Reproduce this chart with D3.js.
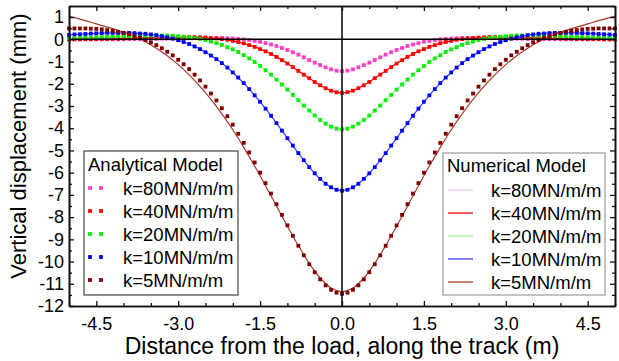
<!DOCTYPE html>
<html><head><meta charset="utf-8">
<script src="https://cdn.jsdelivr.net/npm/d3@7"></script>
<style>
html,body{margin:0;padding:0;background:#fff;}
svg{display:block;font-family:Arial,"Liberation Sans",sans-serif;}
</style></head>
<body><svg id="c" width="619" height="361"></svg>
<script>
// ---- data ----
const distDots = [-5.0,-4.9,-4.8,-4.7,-4.6,-4.5,-4.4,-4.3,-4.2,-4.1,-4.0,-3.9,-3.8,-3.7,-3.6,-3.5,-3.4,-3.3,-3.2,-3.1,-3.0,-2.9,-2.8,-2.7,-2.6,-2.5,-2.4,-2.3,-2.2,-2.1,-2.0,-1.9,-1.8,-1.7,-1.6,-1.5,-1.4,-1.3,-1.2,-1.1,-1.0,-0.9,-0.8,-0.7,-0.6,-0.5,-0.4,-0.3,-0.2,-0.1,0.0,0.1,0.2,0.3,0.4,0.5,0.6,0.7,0.8,0.9,1.0,1.1,1.2,1.3,1.4,1.5,1.6,1.7,1.8,1.9,2.0,2.1,2.2,2.3,2.4,2.5,2.6,2.7,2.8,2.9,3.0,3.1,3.2,3.3,3.4,3.5,3.6,3.7,3.8,3.9,4.0,4.1,4.2,4.3,4.4,4.5,4.6,4.7,4.8,4.9,5.0];
const distLine = [-5.0,-4.8,-4.6,-4.4,-4.2,-4.0,-3.8,-3.6,-3.4,-3.2,-3.0,-2.8,-2.6,-2.4,-2.2,-2.0,-1.8,-1.6,-1.4,-1.2,-1.0,-0.8,-0.6,-0.4,-0.2,0.0,0.2,0.4,0.6,0.8,1.0,1.2,1.4,1.6,1.8,2.0,2.2,2.4,2.6,2.8,3.0,3.2,3.4,3.6,3.8,4.0,4.2,4.4,4.6,4.8,5.0];

// Analytical model (dots)
const anaK80 = [0,0,0,0,0,0,0,0,0,0,0,0.01,0.01,0.01,0.01,0.02,0.02,0.03,0.03,0.04,0.04,0.05,0.05,0.06,0.06,0.06,0.06,0.06,0.06,0.05,0.04,0.02,0.00,-0.03,-0.07,-0.11,-0.17,-0.23,-0.30,-0.39,-0.48,-0.58,-0.69,-0.81,-0.93,-1.05,-1.16,-1.26,-1.35,-1.41,
 -1.43,
 -1.41,-1.35,-1.26,-1.16,-1.05,-0.93,-0.81,-0.69,-0.58,-0.48,-0.39,-0.30,-0.23,-0.17,-0.11,-0.07,-0.03,0.00,0.02,0.04,0.05,0.06,0.06,0.06,0.06,0.06,0.06,0.05,0.05,0.04,0.04,0.03,0.03,0.02,0.02,0.01,0.01,0.01,0.01,0,0,0,0,0,0,0,0,0,0,0];
const anaK40 = [0.00,0.00,0.00,0.01,0.01,0.01,0.02,0.02,0.03,0.03,0.04,0.05,0.05,0.06,0.07,0.07,0.08,0.09,0.09,0.10,0.10,0.10,0.10,0.10,0.09,0.08,0.06,0.04,0.01,-0.02,-0.07,-0.12,-0.18,-0.26,-0.34,-0.44,-0.54,-0.66,-0.79,-0.94,-1.09,-1.25,-1.42,-1.59,-1.75,-1.92,-2.07,-2.20,-2.31,-2.38,
 -2.41,
 -2.38,-2.31,-2.20,-2.07,-1.92,-1.75,-1.59,-1.42,-1.25,-1.09,-0.94,-0.79,-0.66,-0.54,-0.44,-0.34,-0.26,-0.18,-0.12,-0.07,-0.02,0.01,0.04,0.06,0.08,0.09,0.10,0.10,0.10,0.10,0.10,0.09,0.09,0.08,0.07,0.07,0.06,0.05,0.05,0.04,0.03,0.03,0.02,0.02,0.01,0.01,0.01,0.00,0.00,0.00];
const anaK20 = [0.05,0.05,0.06,0.07,0.08,0.09,0.10,0.11,0.12,0.13,0.14,0.15,0.16,0.17,0.17,0.17,0.17,0.17,0.17,0.16,0.14,0.12,0.09,0.06,0.02,-0.03,-0.10,-0.17,-0.25,-0.35,-0.45,-0.57,-0.71,-0.86,-1.02,-1.20,-1.39,-1.59,-1.81,-2.03,-2.26,-2.50,-2.74,-2.98,-3.21,-3.43,-3.63,-3.79,-3.93,-4.02,
 -4.05,
 -4.02,-3.93,-3.79,-3.63,-3.43,-3.21,-2.98,-2.74,-2.50,-2.26,-2.03,-1.81,-1.59,-1.39,-1.20,-1.02,-0.86,-0.71,-0.57,-0.45,-0.35,-0.25,-0.17,-0.10,-0.03,0.02,0.06,0.09,0.12,0.14,0.16,0.17,0.17,0.17,0.17,0.17,0.17,0.16,0.15,0.14,0.13,0.12,0.11,0.10,0.09,0.08,0.07,0.06,0.05,0.05];
const anaK10 = [0.20,0.22,0.23,0.24,0.26,0.27,0.28,0.29,0.29,0.29,0.29,0.29,0.28,0.26,0.25,0.22,0.19,0.14,0.09,0.03,-0.04,-0.12,-0.21,-0.32,-0.44,-0.58,-0.73,-0.89,-1.07,-1.27,-1.49,-1.72,-1.97,-2.24,-2.52,-2.81,-3.12,-3.44,-3.77,-4.11,-4.45,-4.78,-5.12,-5.44,-5.75,-6.03,-6.28,-6.50,-6.66,-6.77,
 -6.81,
 -6.77,-6.66,-6.50,-6.28,-6.03,-5.75,-5.44,-5.12,-4.78,-4.45,-4.11,-3.77,-3.44,-3.12,-2.81,-2.52,-2.24,-1.97,-1.72,-1.49,-1.27,-1.07,-0.89,-0.73,-0.58,-0.44,-0.32,-0.21,-0.12,-0.04,0.03,0.09,0.14,0.19,0.22,0.25,0.26,0.28,0.29,0.29,0.29,0.29,0.29,0.28,0.27,0.26,0.24,0.23,0.22,0.20];
const anaK5 = [0.49,0.49,0.49,0.49,0.48,0.47,0.45,0.42,0.38,0.34,0.29,0.23,0.15,0.07,-0.03,-0.14,-0.26,-0.40,-0.56,-0.72,-0.92,-1.12,-1.34,-1.59,-1.85,-2.13,-2.44,-2.75,-3.10,-3.46,-3.84,-4.25,-4.66,-5.09,-5.54,-6.00,-6.47,-6.94,-7.42,-7.90,-8.37,-8.84,-9.29,-9.72,-10.12,-10.48,-10.80,-11.07,-11.27,-11.40,
 -11.45,
 -11.40,-11.27,-11.07,-10.80,-10.48,-10.12,-9.72,-9.29,-8.84,-8.37,-7.90,-7.42,-6.94,-6.47,-6.00,-5.54,-5.09,-4.66,-4.25,-3.84,-3.46,-3.10,-2.75,-2.44,-2.13,-1.85,-1.59,-1.34,-1.12,-0.92,-0.72,-0.56,-0.40,-0.26,-0.14,-0.03,0.07,0.15,0.23,0.29,0.34,0.38,0.42,0.45,0.47,0.48,0.49,0.49,0.49,0.49];

// Numerical model (lines)
const numK80 = [0,0,0,0,0,0,0.01,0.01,0.02,0.03,0.04,0.05,0.06,0.06,0.06,0.04,0.00,-0.07,-0.17,-0.30,-0.48,-0.69,-0.93,-1.16,-1.35,-1.43,-1.35,-1.16,-0.93,-0.69,-0.48,-0.30,-0.17,-0.07,0.00,0.04,0.06,0.06,0.06,0.05,0.04,0.03,0.02,0.01,0.01,0,0,0,0,0,0];
const numK40 = [0.00,0.00,0.01,0.02,0.03,0.04,0.05,0.07,0.08,0.09,0.10,0.10,0.09,0.06,0.01,-0.07,-0.18,-0.34,-0.54,-0.79,-1.09,-1.42,-1.75,-2.07,-2.31,-2.41,-2.31,-2.07,-1.75,-1.42,-1.09,-0.79,-0.54,-0.34,-0.18,-0.07,0.01,0.06,0.09,0.10,0.10,0.09,0.08,0.07,0.05,0.04,0.03,0.02,0.01,0.00,0.00];
const numK20 = [0.05,0.06,0.08,0.10,0.12,0.14,0.16,0.17,0.17,0.17,0.14,0.09,0.02,-0.10,-0.25,-0.45,-0.71,-1.02,-1.39,-1.81,-2.26,-2.74,-3.21,-3.63,-3.93,-4.05,-3.93,-3.63,-3.21,-2.74,-2.26,-1.81,-1.39,-1.02,-0.71,-0.45,-0.25,-0.10,0.02,0.09,0.14,0.17,0.17,0.17,0.16,0.14,0.12,0.10,0.08,0.06,0.05];
const numK10 = [0.20,0.23,0.26,0.28,0.29,0.29,0.28,0.25,0.19,0.09,-0.04,-0.21,-0.44,-0.73,-1.07,-1.49,-1.97,-2.52,-3.12,-3.77,-4.45,-5.12,-5.75,-6.28,-6.66,-6.81,-6.66,-6.28,-5.75,-5.12,-4.45,-3.77,-3.12,-2.52,-1.97,-1.49,-1.07,-0.73,-0.44,-0.21,-0.04,0.09,0.19,0.25,0.28,0.29,0.29,0.28,0.26,0.23,0.20];
const numK5 = [1.05,0.91,0.77,0.62,0.48,0.32,0.13,-0.11,-0.40,-0.74,-1.14,-1.60,-2.12,-2.70,-3.35,-4.07,-4.86,-5.70,-6.59,-7.50,-8.41,-9.28,-10.08,-10.74,-11.19,-11.35,-11.19,-10.74,-10.08,-9.28,-8.41,-7.50,-6.59,-5.70,-4.86,-4.07,-3.35,-2.70,-2.12,-1.60,-1.14,-0.74,-0.40,-0.11,0.13,0.32,0.48,0.62,0.77,0.91,1.05];

const seriesNames = ["k=80MN/m/m","k=40MN/m/m","k=20MN/m/m","k=10MN/m/m","k=5MN/m/m"];
const xTickValues = [-4.5,-3.0,-1.5,0.0,1.5,3.0,4.5];
const xTickLabels = ["-4.5","-3.0","-1.5","0.0","1.5","3.0","4.5"];
const xMinorValues = [-5,-4,-3.5,-2.5,-2,-1,-0.5,0.5,1,2,2.5,3.5,4,5];
const yTickValues = [1,0,-1,-2,-3,-4,-5,-6,-7,-8,-9,-10,-11,-12];
const yTickLabels = ["1","0","-1","-2","-3","-4","-5","-6","-7","-8","-9","-10","-11","-12"];
const yMinorValues = [1.5,0.5,-0.5,-1.5,-2.5,-3.5,-4.5,-5.5,-6.5,-7.5,-8.5,-9.5,-10.5,-11.5];

// ---- styles ----
const dotColors = ["#ff40c0","#ff0000","#00f000","#0000ff","#800000"];
const lineColors = ["#f6c4e6","#ff0000","#a0eea0","#3a3aff","#a8382c"];
const anaData = [anaK80,anaK40,anaK20,anaK10,anaK5];
const numData = [numK80,numK40,numK20,numK10,numK5];

const svg = d3.select("#c");
const L=69,R=615,T=6,B=306;
const x = d3.scaleLinear().domain([-5,5]).range([L,R]);
const y = d3.scaleLinear().domain([-12,1.5]).range([B,T]);

// lines (numerical)
const line = d3.line().x(d=>x(d[0])).y(d=>y(d[1])).curve(d3.curveCatmullRom.alpha(0.5));
numData.forEach((arr,i)=>{
  svg.append("path").datum(distLine.map((d,j)=>[d,arr[j]]))
    .attr("fill","none").attr("stroke",lineColors[i]).attr("stroke-width",1.2)
    .attr("d",line);
});
// dots (analytical)
const ds = 3.8;
anaData.forEach((arr,i)=>{
  svg.append("g").selectAll("rect").data(distDots.map((d,j)=>[d,arr[j]])).join("rect")
    .attr("x",d=>x(d[0])-ds/2).attr("y",d=>y(d[1])-ds/2)
    .attr("width",ds).attr("height",ds).attr("fill",dotColors[i]);
});

// zero lines
svg.append("line").attr("x1",L).attr("x2",R).attr("y1",y(0)).attr("y2",y(0)).attr("stroke","#000").attr("stroke-width",1.5);
svg.append("line").attr("x1",x(0)).attr("x2",x(0)).attr("y1",T).attr("y2",B).attr("stroke","#000").attr("stroke-width",1.5);

// axes
function styleAxis(g){
  g.select(".domain").attr("stroke","#111").attr("stroke-width",1.6);
  g.selectAll(".tick line").attr("stroke","#111").attr("stroke-width",1.3);
  g.selectAll(".tick text").attr("fill","#000").attr("font-size","18px").attr("font-family","Arial,'Liberation Sans',sans-serif");
}
const gxB = svg.append("g").attr("transform",`translate(0,${B})`)
  .call(d3.axisBottom(x).tickValues(xTickValues).tickFormat((d,i)=>xTickLabels[i]).tickSize(-5).tickSizeOuter(0).tickPadding(11));
styleAxis(gxB);
const gxBm = svg.append("g").attr("transform",`translate(0,${B})`)
  .call(d3.axisBottom(x).tickValues(xMinorValues).tickFormat("").tickSize(-3).tickSizeOuter(0));
styleAxis(gxBm);
const gxT = svg.append("g").attr("transform",`translate(0,${T})`)
  .call(d3.axisTop(x).tickValues(xTickValues).tickFormat("").tickSize(-5).tickSizeOuter(0));
styleAxis(gxT);
const gxTm = svg.append("g").attr("transform",`translate(0,${T})`)
  .call(d3.axisTop(x).tickValues(xMinorValues).tickFormat("").tickSize(-3).tickSizeOuter(0));
styleAxis(gxTm);
const gyL = svg.append("g").attr("transform",`translate(${L},0)`)
  .call(d3.axisLeft(y).tickValues(yTickValues).tickFormat((d,i)=>yTickLabels[i]).tickSize(-5).tickSizeOuter(0).tickPadding(5));
styleAxis(gyL);
const gyLm = svg.append("g").attr("transform",`translate(${L},0)`)
  .call(d3.axisLeft(y).tickValues(yMinorValues).tickFormat("").tickSize(-3).tickSizeOuter(0));
styleAxis(gyLm);
const gyR = svg.append("g").attr("transform",`translate(${R},0)`)
  .call(d3.axisRight(y).tickValues(yTickValues).tickFormat("").tickSize(-5).tickSizeOuter(0));
styleAxis(gyR);
const gyRm = svg.append("g").attr("transform",`translate(${R},0)`)
  .call(d3.axisRight(y).tickValues(yMinorValues).tickFormat("").tickSize(-3).tickSizeOuter(0));
styleAxis(gyRm);

// axis titles
svg.append("text").attr("x",(L+R)/2).attr("y",354).attr("text-anchor","middle")
  .attr("font-size","23px").attr("fill","#000").text("Distance from the load, along the track (m)");
svg.append("text").attr("transform","translate(26,146) rotate(-90)").attr("text-anchor","middle")
  .attr("font-size","22px").attr("fill","#000").text("Vertical displacement (mm)");

// legend: analytical
const la = svg.append("g");
la.append("rect").attr("x",84).attr("y",151).attr("width",154).attr("height",144)
  .attr("fill","#fff").attr("stroke","#444").attr("stroke-width",1.2);
la.append("text").attr("x",88).attr("y",171).attr("font-size","18.5px").attr("fill","#000").text("Analytical Model");
seriesNames.forEach((s,i)=>{
  const cy = 188 + 23*i;
  [90,101].forEach(cx=>la.append("rect").attr("x",cx-ds/2).attr("y",cy-ds/2).attr("width",ds).attr("height",ds).attr("fill",dotColors[i]));
  la.append("text").attr("x",123).attr("y",cy+6.5).attr("font-size","18.5px").attr("fill","#000").text(s);
});
// legend: numerical
const ln = svg.append("g");
ln.append("rect").attr("x",443).attr("y",153).attr("width",162).attr("height",142)
  .attr("fill","#fff").attr("stroke","#999").attr("stroke-width",1.2);
ln.append("text").attr("x",447).attr("y",172).attr("font-size","18.5px").attr("fill","#000").text("Numerical Model");
seriesNames.forEach((s,i)=>{
  const cy = 190 + 23*i;
  ln.append("line").attr("x1",448).attr("x2",473).attr("y1",cy).attr("y2",cy).attr("stroke",lineColors[i]).attr("stroke-width",1.3);
  ln.append("text").attr("x",491).attr("y",cy+6.5).attr("font-size","18.5px").attr("fill","#000").text(s);
});
</script>
</body></html>
